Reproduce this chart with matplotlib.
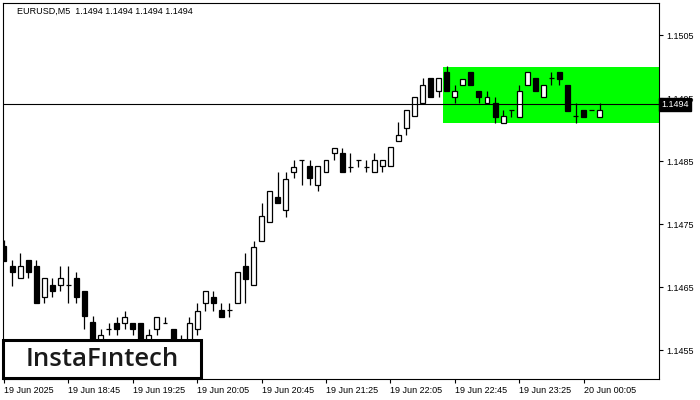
import matplotlib

matplotlib.use("Agg")
import matplotlib.pyplot as plt
from matplotlib.patches import Rectangle
from matplotlib.transforms import blended_transform_factory

# EURUSD M5 candles, 19 Jun 18:05 .. 20 Jun 00:15
opens = [
    1.14715, 1.14683, 1.14664, 1.14693, 1.14683, 1.14634, 1.14653, 1.14653, 1.14653, 1.14664,
    1.14644, 1.14594, 1.14565, 1.14583, 1.14593, 1.14593, 1.14593, 1.14593, 1.14565, 1.14583,
    1.14593, 1.14583, 1.14560, 1.14560, 1.14583, 1.14625, 1.14634, 1.14614, 1.14614, 1.14625,
    1.14683, 1.14653, 1.14723, 1.14753, 1.14793, 1.14772, 1.14833, 1.14852, 1.14842, 1.14812,
    1.14833, 1.14863, 1.14863, 1.14841, 1.14852, 1.14841, 1.14833, 1.14842, 1.14842, 1.14882,
    1.14902, 1.14921, 1.14942, 1.14982, 1.14961, 1.14991, 1.14952, 1.14971, 1.14991, 1.14961,
    1.14942, 1.14942, 1.14910, 1.14931, 1.14920, 1.14971, 1.14982, 1.14952, 1.14982, 1.14991,
    1.14971, 1.14921, 1.14931, 1.14931, 1.14920,
]
highs = [
    1.14725, 1.14693, 1.14704, 1.14693, 1.14693, 1.14664, 1.14664, 1.14683, 1.14683, 1.14674,
    1.14644, 1.14604, 1.14583, 1.14593, 1.14602, 1.14612, 1.14593, 1.14593, 1.14583, 1.14602,
    1.14602, 1.14583, 1.14574, 1.14602, 1.14625, 1.14644, 1.14644, 1.14625, 1.14625, 1.14674,
    1.14704, 1.14723, 1.14783, 1.14802, 1.14833, 1.14833, 1.14852, 1.14852, 1.14852, 1.14842,
    1.14852, 1.14871, 1.14871, 1.14863, 1.14852, 1.14852, 1.14863, 1.14852, 1.14872, 1.14912,
    1.14931, 1.14952, 1.14982, 1.14982, 1.14982, 1.15001, 1.14971, 1.14980, 1.14991, 1.14961,
    1.14961, 1.14952, 1.14931, 1.14931, 1.14971, 1.14991, 1.14982, 1.14971, 1.14991, 1.14991,
    1.14971, 1.14942, 1.14931, 1.14931, 1.14942,
]
lows = [
    1.14691, 1.14652, 1.14664, 1.14664, 1.14625, 1.14625, 1.14634, 1.14644, 1.14625, 1.14625,
    1.14583, 1.14550, 1.14555, 1.14574, 1.14574, 1.14583, 1.14574, 1.14550, 1.14560, 1.14574,
    1.14593, 1.14550, 1.14550, 1.14560, 1.14574, 1.14612, 1.14612, 1.14602, 1.14602, 1.14625,
    1.14625, 1.14653, 1.14723, 1.14753, 1.14783, 1.14761, 1.14823, 1.14812, 1.14812, 1.14802,
    1.14833, 1.14852, 1.14833, 1.14833, 1.14841, 1.14833, 1.14833, 1.14833, 1.14842, 1.14882,
    1.14891, 1.14921, 1.14942, 1.14952, 1.14952, 1.14961, 1.14942, 1.14971, 1.14971, 1.14942,
    1.14942, 1.14910, 1.14910, 1.14920, 1.14920, 1.14971, 1.14961, 1.14952, 1.14971, 1.14971,
    1.14930, 1.14910, 1.14920, 1.14931, 1.14920,
]
closes = [
    1.14691, 1.14674, 1.14683, 1.14674, 1.14625, 1.14664, 1.14644, 1.14664, 1.14653, 1.14634,
    1.14604, 1.14558, 1.14574, 1.14583, 1.14583, 1.14602, 1.14583, 1.14560, 1.14574, 1.14602,
    1.14593, 1.14560, 1.14565, 1.14593, 1.14612, 1.14644, 1.14625, 1.14602, 1.14614, 1.14674,
    1.14663, 1.14713, 1.14763, 1.14802, 1.14783, 1.14821, 1.14841, 1.14852, 1.14823, 1.14842,
    1.14852, 1.14871, 1.14833, 1.14841, 1.14852, 1.14841, 1.14852, 1.14852, 1.14872, 1.14891,
    1.14931, 1.14952, 1.14971, 1.14952, 1.14982, 1.14961, 1.14961, 1.14980, 1.14971, 1.14952,
    1.14952, 1.14920, 1.14921, 1.14931, 1.14961, 1.14991, 1.14961, 1.14971, 1.14982, 1.14980,
    1.14930, 1.14921, 1.14920, 1.14931, 1.14931,
]

tick_labels = [
    "19 Jun 2025", "19 Jun 18:45", "19 Jun 19:25", "19 Jun 20:05", "19 Jun 20:45",
    "19 Jun 21:25", "19 Jun 22:05", "19 Jun 22:45", "19 Jun 23:25", "20 Jun 00:05",
]
price_ticks = [1.1455, 1.1465, 1.1475, 1.1485, 1.1495, 1.1505]
last_price = 1.1494
zone_start = 54.5         # pattern box starts just left of the 22:40 candle
zone_low, zone_high = 1.1491, 1.1500
header = "EURUSD,M5  1.1494 1.1494 1.1494 1.1494"

W, H = 700, 400
fig = plt.figure(figsize=(7, 4), dpi=100)
ax = fig.add_axes([3 / W, 21 / H, 656 / W, 376 / H])

step = 8.05  # px per candle
ax.set_xlim((3 - 4) / step, (659 - 4) / step)
ax.set_ylim(1.14504, 1.15101)

# green rectangle pattern
ax.add_patch(Rectangle((zone_start, zone_low), 100, zone_high - zone_low,
                       facecolor="#00FF00", edgecolor="none", zorder=1))

# candles
body_w = 0.62
for i, (o, h, l, c) in enumerate(zip(opens, highs, lows, closes)):
    ax.vlines(i, l, h, color="black", linewidth=0.9, zorder=2)
    if abs(c - o) < 1e-6:
        ax.hlines(o, i - body_w / 2, i + body_w / 2, color="black", linewidth=0.9, zorder=3)
    else:
        fc = "white" if c > o else "black"
        ax.add_patch(Rectangle((i - body_w / 2, min(o, c)), body_w, abs(c - o),
                               facecolor=fc, edgecolor="black", linewidth=0.9, zorder=3))

# last price line
ax.axhline(last_price, color="black", linewidth=0.8, zorder=4)

# axes styling
for s in ax.spines.values():
    s.set_linewidth(0.8)
ax.yaxis.tick_right()
ax.set_yticks(price_ticks)
ax.set_yticklabels([f"{p:.4f}" for p in price_ticks])
ax.set_xticks(range(0, 8 * len(tick_labels), 8))
ax.set_xticklabels(tick_labels, ha="left")
ax.tick_params(axis="both", direction="out", length=3, width=0.8, labelsize=6.5,
               pad=2)
for lbl in ax.get_xticklabels() + ax.get_yticklabels():
    lbl.set_fontfamily("Liberation Sans")

# price label on the right axis (covers the 1.1495 label, as in the terminal)
tr = blended_transform_factory(ax.transAxes, ax.transData)
ax.text(1.004, last_price, "1.1494", transform=tr, color="white", fontsize=6.5,
        family="Liberation Sans", va="center", ha="left", zorder=6, clip_on=False,
        bbox=dict(boxstyle="square,pad=0.25", facecolor="black", edgecolor="black"))

# header
fig.text(17 / W, 1 - 11 / H, header, fontsize=6.5, family="Liberation Sans",
         va="center", ha="left")

# logo box
fig.add_artist(Rectangle((3 / W, 22 / H), 198 / W, 38 / H, transform=fig.transFigure,
                         facecolor="white", edgecolor="black", linewidth=2.2, zorder=10))
fig.text(102 / W, 1 - 360 / H, "InstaF\u0131ntech", fontsize=18.5, family="Open Sans",
         fontweight="semibold", color="#1a1a1a", ha="center", va="center", zorder=11)

fig.savefig("out.png", dpi=100)
